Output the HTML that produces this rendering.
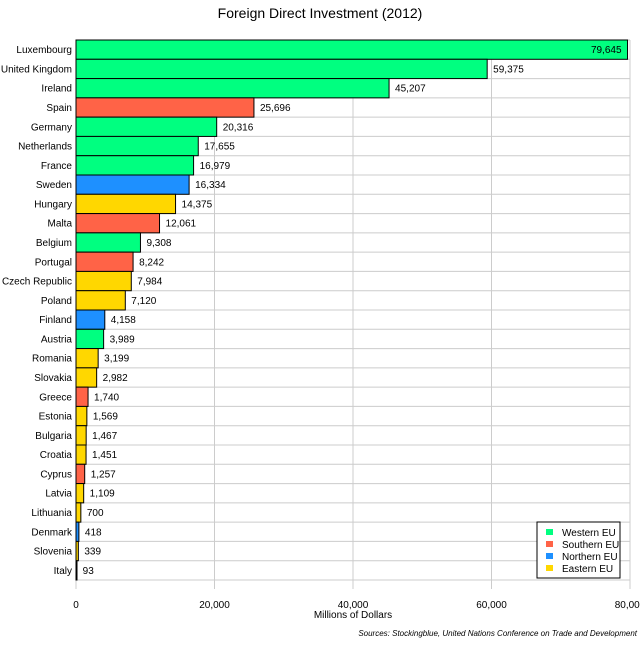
<!DOCTYPE html>
<html><head><meta charset="utf-8"><style>
body{margin:0;background:#fff;font-family:"Liberation Sans",sans-serif}
svg text{font-family:"Liberation Sans",sans-serif}
</style></head><body>
<svg id="c" width="640" height="640">
<text x="320" y="18" text-anchor="middle" font-size="14">Foreign Direct Investment (2012)</text>
<g id="grid"></g><g id="bars"></g><g id="labels"></g>
<text x="353" y="618" text-anchor="middle" font-size="10">Millions of Dollars</text>
<text x="637" y="636" text-anchor="end" font-size="8" font-style="italic">Sources: Stockingblue, United Nations Conference on Trade and Development</text>
<g>
<rect x="537" y="522" width="83" height="56" fill="#fff" stroke="#000"/>
<rect x="546" y="529" width="7" height="6" fill="#00ff80"/><text x="562" y="536" font-size="10">Western EU</text>
<rect x="546" y="541" width="7" height="6" fill="#ff6347"/><text x="562" y="548" font-size="10">Southern EU</text>
<rect x="546" y="553" width="7" height="6" fill="#1e90ff"/><text x="562" y="560" font-size="10">Northern EU</text>
<rect x="546" y="565" width="7" height="6" fill="#ffd700"/><text x="562" y="572" font-size="10">Eastern EU</text>
</g>
</svg>
<script>
const countries=["Luxembourg","United Kingdom","Ireland","Spain","Germany","Netherlands","France","Sweden","Hungary","Malta","Belgium","Portugal","Czech Republic","Poland","Finland","Austria","Romania","Slovakia","Greece","Estonia","Bulgaria","Croatia","Cyprus","Latvia","Lithuania","Denmark","Slovenia","Italy"];
const values=[79645,59375,45207,25696,20316,17655,16979,16334,14375,12061,9308,8242,7984,7120,4158,3989,3199,2982,1740,1569,1467,1451,1257,1109,700,418,339,93];
const regions=["W","W","W","S","W","W","W","N","E","S","W","S","E","E","N","W","E","E","S","E","E","E","S","E","E","N","E","S"];
const ticks=[0,20000,40000,60000,80000];
const colors={W:"#00ff80",S:"#ff6347",N:"#1e90ff",E:"#ffd700"};
const X0=76,X1=630,Y0=40,Y1=580,MAX=80000;
const x=v=>X0+(v/MAX)*(X1-X0);
const rowH=(Y1-Y0)/countries.length;
const y=i=>Y0+i*rowH;
const NS="http://www.w3.org/2000/svg";
function mk(t,a,p){const e=document.createElementNS(NS,t);for(const k in a)e.setAttribute(k,a[k]);p.appendChild(e);return e;}
const g=document.getElementById("grid"),b=document.getElementById("bars"),l=document.getElementById("labels");
for(let i=0;i<=countries.length;i++){const ln=mk("line",{x1:X0,x2:X1,y1:y(i),y2:y(i),stroke:"#ccc"},g);

}
ticks.forEach(t=>{const ln=mk("line",{x1:x(t),x2:x(t),y1:Y0,y2:Y1+9,stroke:"#ccc"},g);


const tx=mk("text",{x:x(t),y:608,"text-anchor":"middle","font-size":10},g);tx.textContent=t.toLocaleString("en-US");

});
countries.forEach((c,i)=>{
const r=mk("rect",{x:X0,y:y(i),width:Math.max(x(values[i])-X0,1),height:rowH,fill:colors[regions[i]],stroke:"#000","stroke-width":1},b);


const cl=mk("text",{x:X0-4,y:y(i)+rowH/2+3.5,"text-anchor":"end","font-size":10},l);cl.textContent=c;


const v=values[i];const inside=x(v)>X1-40;
const vl=mk("text",{x:inside?x(v)-6:x(v)+6,y:y(i)+rowH/2+3.5,"text-anchor":inside?"end":"start","font-size":10},l);vl.textContent=v.toLocaleString("en-US");


});
mk("line",{x1:X0,x2:X0,y1:Y0,y2:Y1,stroke:"#000"},g);
</script>
</body></html>
